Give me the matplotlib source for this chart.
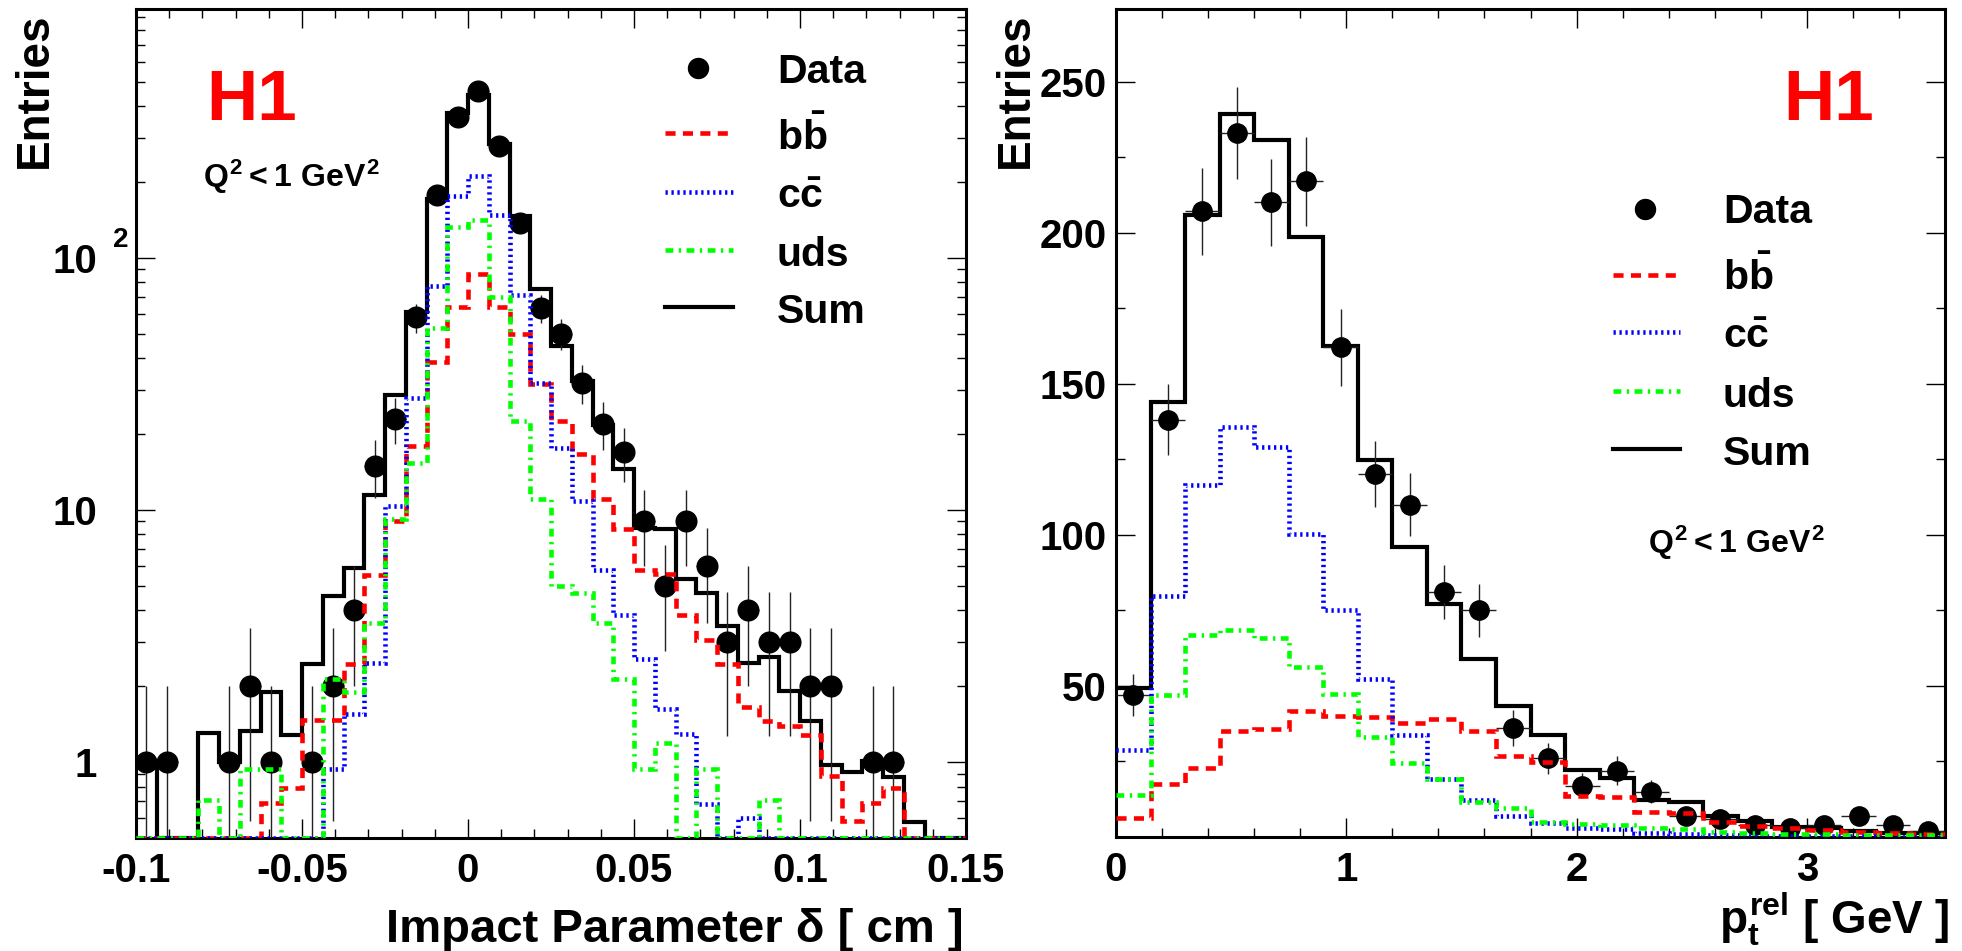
import numpy as np
import matplotlib
matplotlib.use("Agg")
import matplotlib.pyplot as plt
from matplotlib.ticker import FixedLocator, MultipleLocator, LogLocator, NullFormatter

plt.rcParams['font.family'] = ['Liberation Sans', 'DejaVu Sans']
plt.rcParams['font.weight'] = 'bold'
plt.rcParams['mathtext.fontset'] = 'custom'
plt.rcParams['mathtext.rm'] = 'Liberation Sans:bold'
plt.rcParams['mathtext.it'] = 'Liberation Sans:bold'
plt.rcParams['mathtext.bf'] = 'Liberation Sans:bold'

# impact parameter histogram, 40 bins from -0.1 to 0.15 cm
delta_edges = np.linspace(-0.1, 0.15, 41)
delta_data = [1, 1, 0, 0, 1, 2, 1, 0, 1, 2, 4, 15, 23, 58, 178, 362, 459, 278, 138, 63,
              50, 32, 22, 17, 9, 5, 9, 6, 3, 4, 3, 3, 2, 2, 0, 1, 1, 0, 0, 0]
delta_sum = [0.95, 0.3, 0.3, 1.3, 1.0, 1.33, 1.89, 1.28, 2.46, 4.56, 5.9, 11.5, 28.7, 61, 171,
             374, 442, 283, 146, 75, 44.8, 32.4, 21.8, 14.5, 8.5, 8.4, 5.34, 4.7, 3.45, 2.48,
             2.62, 1.92, 1.46, 0.97, 0.915, 1.01, 0.87, 0.58, 0.3, 0.3]
delta_bb = [0.3, 0.3, 0.3, 0.3, 0.3, 0.3, 0.69, 0.79, 1.47, 1.47, 2.46, 5.5, 9.0, 18, 38.5,
            64, 86.5, 64, 50, 31.7, 22.5, 16.6, 11.1, 8.4, 5.8, 5.55, 3.82, 3.05, 2.44, 1.66,
            1.46, 1.39, 1.28, 0.88, 0.585, 0.69, 0.79, 0.3, 0.3, 0.3]
delta_cc = [0.3, 0.3, 0.3, 0.3, 0.3, 0.3, 0.3, 0.3, 0.3, 0.94, 1.55, 2.48, 10.4, 27.8, 77,
            176, 212, 148, 71.4, 32, 17.6, 10.9, 5.8, 3.82, 2.57, 1.63, 1.29, 0.68, 0.3, 0.6,
            0.3, 0.3, 0.3, 0.3, 0.3, 0.3, 0.3, 0.3, 0.3, 0.3]
delta_uds = [0.3, 0.3, 0.3, 0.71, 0.3, 0.94, 0.94, 0.3, 0.3, 2.13, 1.89, 3.55, 9.2, 15.4, 52.7,
             133, 141, 69.7, 22.5, 11.1, 5.0, 4.7, 3.55, 2.13, 0.94, 1.19, 0.3, 0.94, 0.3, 0.3,
             0.71, 0.3, 0.3, 0.3, 0.3, 0.3, 0.3, 0.3, 0.3, 0.3]

# pt_rel histogram, 24 bins from 0 to 3.6 GeV
ptrel_edges = np.linspace(0, 3.6, 25)
ptrel_data = [47, 138, 207, 233, 210, 217, 162, 120, 110, 81, 75, 36, 26, 17, 22, 15, 7, 6,
              4, 3, 4, 7, 4, 2]
ptrel_sum = [49.4, 144, 205.8, 239.3, 230.5, 198.5, 162.5, 124.9, 95.9, 77.2, 58.8, 43.4,
             33.7, 22.1, 19.4, 12.2, 11.7, 6.9, 5.3, 3.4, 3.1, 2.0, 1.2, 1.2]
ptrel_bb = [6.4, 17.4, 22.7, 35.0, 35.6, 41.8, 40.0, 39.8, 37.6, 39.0, 35.0, 26.8, 24.9, 13.5,
            13.3, 8.4, 8.0, 5.1, 3.8, 3.1, 2.3, 1.8, 1.2, 0.9]
ptrel_cc = [28.7, 79.6, 116.5, 135.6, 129, 100.3, 75.2, 52.4, 33.7, 19.1, 12.2, 7.1, 4.5, 2.9,
            2.5, 1.2, 0.9, 0.6, 0.4, 0.3, 0.2, 0.2, 0.1, 0.1]
ptrel_uds = [13.9, 47.1, 66.7, 68.6, 65.9, 56.2, 47.2, 33.0, 24.6, 19.2, 11.7, 9.7, 5.1, 4.2,
             4.0, 3.1, 2.6, 1.8, 1.2, 1.0, 1.0, 0.8, 0.7, 0.6]

labels = ['Data', r'$b\bar{b}$', r'$c\bar{c}$', 'uds', 'Sum']
styles = [('#ff0000', (0, (2.2, 1.6))),
          ('#0000ff', (0, (0.5, 0.8))),
          ('#00ff00', (0, (1.7, 1.2, 0.5, 1.2)))]
LW = 3.0
CLW = 3.3


def draw_panel(ax, edges, data, total, comps, ymin, ms):
    centers = 0.5 * (edges[1:] + edges[:-1])
    half = 0.5 * (edges[1] - edges[0])
    data = np.array(data, dtype=float)
    ok = data > 0
    ax.stairs(np.clip(total, ymin, None), edges, baseline=None, color='k', lw=LW, zorder=2)
    ax.errorbar(centers[ok], data[ok], yerr=np.sqrt(data[ok]), xerr=half, fmt='o',
                color='k', ms=ms, ecolor='#222222', elinewidth=1.0, capsize=0, zorder=3)
    for vals, (col, ls) in zip(comps, styles):
        ax.stairs(np.clip(vals, ymin, None), edges, baseline=None, color=col, lw=CLW,
                  ls=ls, zorder=4)


def draw_legend(ax, xm, xl, xt, ys_mark, ys_text):
    tr = ax.transAxes
    ax.plot([xm], [ys_mark[0]], 'o', color='k', ms=14.4, transform=tr, clip_on=False)
    for y, (col, ls) in zip(ys_mark[1:4], styles):
        ax.plot(xl, [y, y], color=col, ls=ls, lw=CLW, transform=tr)
    ax.plot(xl, [ys_mark[4]] * 2, color='k', lw=LW, transform=tr)
    for y, lab in zip(ys_text, labels):
        ax.text(xt, y, lab, transform=tr, fontsize=29.5, fontweight='bold', va='baseline')


def style_axes(ax, ypad):
    for s in ax.spines.values():
        s.set_linewidth(2.2)
    ax.tick_params(which='both', direction='in', top=True, right=True, width=1.0,
                   labelsize=29)
    ax.tick_params(which='major', length=14)
    ax.tick_params(which='minor', length=6.5)
    ax.tick_params(axis='x', pad=10)
    ax.tick_params(axis='y', pad=ypad)


fig = plt.figure(figsize=(19.62, 9.51), dpi=100)
ax1 = fig.add_axes([136 / 1962, 113 / 951, 830 / 1962, 829 / 951])
ax2 = fig.add_axes([1116 / 1962, 114 / 951, 829 / 1962, 828 / 951])

# left: impact parameter (log)
ax1.set_yscale('log')
draw_panel(ax1, delta_edges, delta_data, delta_sum, [delta_bb, delta_cc, delta_uds], 0.5, 14.9)
ax1.set_xlim(-0.1, 0.15)
ax1.set_ylim(0.5, 970)
style_axes(ax1, 28)
ax1.xaxis.set_major_locator(FixedLocator([-0.1, -0.05, 0, 0.05, 0.1, 0.15]))
ax1.set_xticklabels(['-0.1', '-0.05', '0', '0.05', '0.1', '0.15'])
ax1.xaxis.set_minor_locator(MultipleLocator(0.01))
ax1.yaxis.set_major_locator(FixedLocator([1, 10, 100]))
ax1.set_yticklabels(['1', '10', '10'])
ax1.yaxis.set_minor_locator(LogLocator(base=10, subs=np.arange(2, 10)))
ax1.yaxis.set_minor_formatter(NullFormatter())
ax1.annotate('2', xy=(0, 100), xycoords=('axes fraction', 'data'), xytext=(-10.8, 13),
             textcoords='offset points', ha='center', va='center', fontsize=20)

ax1.text(0.0843, 0.866, 'H1', transform=ax1.transAxes, color='#ff0000', fontsize=51,
         fontweight='bold', va='baseline')
ax1.text(0.0807, 0.785, r'$Q^{2} < 1\ GeV^{2}$', transform=ax1.transAxes, fontsize=23,
         va='baseline')
draw_legend(ax1, 0.677, [0.637, 0.719], 0.772,
            [0.929, 0.850, 0.779, 0.709, 0.640],
            [0.9107, 0.830, 0.760, 0.690, 0.621])
ax1.text(-0.122, 0.996, 'Entries', transform=ax1.transAxes, rotation=90, fontsize=33,
         ha='center', va='top')
ax1.text(0.9976, -0.1255, 'Impact Parameter δ [ cm ]', transform=ax1.transAxes,
         fontsize=34, ha='right', va='baseline')

# right: pt_rel (linear)
draw_panel(ax2, ptrel_edges, ptrel_data, ptrel_sum, [ptrel_bb, ptrel_cc, ptrel_uds], 0, 13.9)
ax2.set_xlim(0, 3.6)
ax2.set_ylim(0, 274)
style_axes(ax2, 6.5)
ax2.xaxis.set_major_locator(FixedLocator([0, 1, 2, 3]))
ax2.xaxis.set_minor_locator(MultipleLocator(0.2))
ax2.yaxis.set_major_locator(FixedLocator([50, 100, 150, 200, 250]))
ax2.yaxis.set_minor_locator(MultipleLocator(25))

ax2.text(0.8046, 0.866, 'H1', transform=ax2.transAxes, color='#ff0000', fontsize=51,
         fontweight='bold', va='baseline')
ax2.text(0.6417, 0.343, r'$Q^{2} < 1\ GeV^{2}$', transform=ax2.transAxes, fontsize=23,
         va='baseline')
draw_legend(ax2, 0.638, [0.5995, 0.680], 0.732,
            [0.758, 0.679, 0.610, 0.539, 0.468],
            [0.7415, 0.661, 0.5906, 0.519, 0.449])
ax2.text(-0.121, 0.996, 'Entries', transform=ax2.transAxes, rotation=90, fontsize=33,
         ha='center', va='top')
ax2.text(1.005, -0.117, r'$p_{t}^{rel}$ [ GeV ]', transform=ax2.transAxes,
         fontsize=33, ha='right', va='baseline')

fig.savefig('out.png', dpi=100)
